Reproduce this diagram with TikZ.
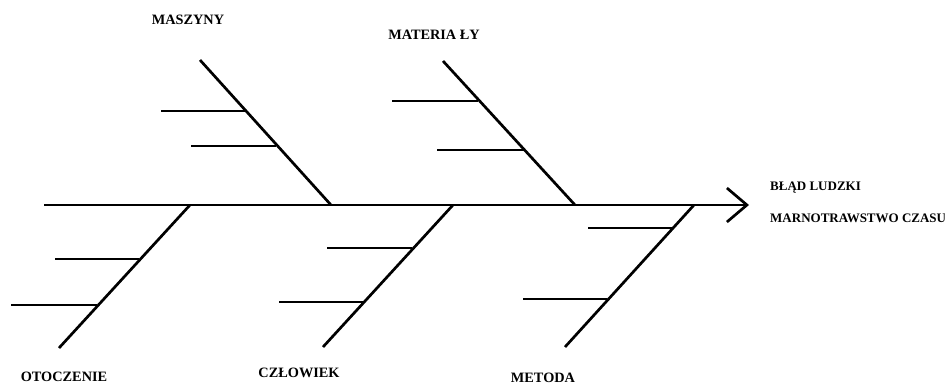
\documentclass[tikz,border=0pt]{standalone}
\usepackage{fontspec}
\setmainfont{Liberation Serif}
\usetikzlibrary{arrows.meta}
\begin{document}
\begin{tikzpicture}[x=1pt,y=-1pt,
  bone/.style={line width=2.7pt},
  lbl/.style={font=\bfseries\fontsize{14.3}{16}\selectfont, inner sep=0pt},
  rlbl/.style={font=\bfseries\fontsize{13}{15}\selectfont, inner sep=0pt, anchor=west}]
\useasboundingbox (0,0) rectangle (945,386);
% spine
\coordinate (tail) at (44,205);
\coordinate (head) at (749,205);
\draw[bone, -{Straight Barb[length=20pt,width=34pt,line width=2.7pt]}] (tail) -- (head);
% upper bones
\coordinate (mA) at (200,60);  \coordinate (mB) at (331,205);
\coordinate (tA) at (443,61);  \coordinate (tB) at (575,205);
\draw[bone] (mA) -- (mB);
\draw[bone] (tA) -- (tB);
% lower bones
\coordinate (oA) at (190,205); \coordinate (oB) at (59,348);
\coordinate (cA) at (453,205); \coordinate (cB) at (323,347);
\coordinate (eA) at (694,205); \coordinate (eB) at (565,347);
\draw[bone] (oA) -- (oB);
\draw[bone] (cA) -- (cB);
\draw[bone] (eA) -- (eB);
% sub-bones
\coordinate (m1a) at (161,111); \coordinate (m1b) at (245,111);
\coordinate (m2a) at (191,146); \coordinate (m2b) at (276,146);
\coordinate (t1a) at (392,101); \coordinate (t1b) at (478,101);
\coordinate (t2a) at (437,150); \coordinate (t2b) at (525,150);
\coordinate (o1a) at (55,259);  \coordinate (o1b) at (139,259);
\coordinate (o2a) at (11,305);  \coordinate (o2b) at (97,305);
\coordinate (c1a) at (327,248); \coordinate (c1b) at (412,248);
\coordinate (c2a) at (279,302); \coordinate (c2b) at (363,302);
\coordinate (e1a) at (588,228); \coordinate (e1b) at (673,228);
\coordinate (e2a) at (523,299); \coordinate (e2b) at (607,299);
\foreach \s in {m1,m2,t1,t2,o1,o2,c1,c2,e1,e2}
  \draw[bone] (\s a) -- (\s b);
% labels
\node[lbl] (lmasz) at (188,20) {MASZYNY};
\node[lbl] (lmat) at (434,35) {MATERIA ŁY};
\node[lbl] (lotoc) at (64,377) {OTOCZENIE};
\node[lbl] (lczl) at (299,373) {CZŁOWIEK};
\node[lbl] (lmet) at (543,378) {METODA};
\node[rlbl] (lblad) at (770,188) {BŁĄD LUDZKI};
\node[rlbl] (lmarn) at (770,218) {MARNOTRAWSTWO CZASU};
\end{tikzpicture}
\end{document}
